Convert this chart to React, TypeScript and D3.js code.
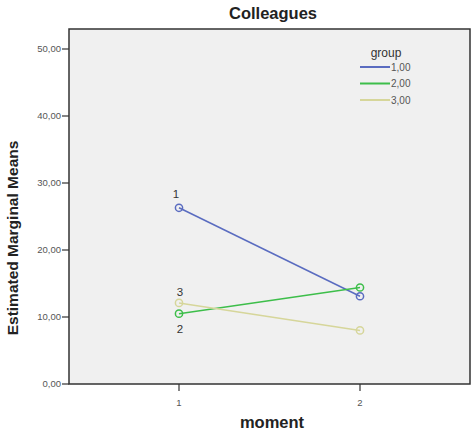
import React, { useEffect, useRef } from 'react';
import * as d3 from 'd3';

const moments = [1, 2];
const groups = ['1,00', '2,00', '3,00'];
const groupColors = ['#5a6cc0', '#3dbe4a', '#d6d69a'];
const means = [
  [26.3, 13.1],
  [10.5, 14.4],
  [12.1, 8.0],
];
const yTicks = [0, 10, 20, 30, 40, 50];

const App: React.FC = () => {
  const ref = useRef<SVGSVGElement>(null);

  useEffect(() => {
    const svg = d3.select(ref.current);
    svg.selectAll('*').remove();
    const width = 474;
    const height = 432;
    svg.attr('width', width).attr('height', height);

    const left = 69, right = 470, top = 29, bottom = 384;
    const font = 'Liberation Sans, Arial, sans-serif';

    const x = d3.scaleLinear().domain([1, 2]).range([179, 360]);
    const y = d3.scaleLinear().domain([0, 50]).range([bottom, 49]);

    svg.append('rect')
      .attr('x', left).attr('y', top)
      .attr('width', right - left).attr('height', bottom - top)
      .attr('fill', '#f0f0f0')
      .attr('stroke', '#333').attr('stroke-width', 1.5);

    // title
    svg.append('text')
      .attr('x', 273).attr('y', 19)
      .attr('text-anchor', 'middle')
      .style('font-family', font)
      .style('font-weight', 'bold').style('font-size', '16.5px')
      .attr('fill', '#222')
      .text('Colleagues');

    // y axis
    const yAxis = svg.append('g');
    yTicks.forEach(t => {
      yAxis.append('line')
        .attr('x1', left - 7).attr('x2', left)
        .attr('y1', y(t)).attr('y2', y(t))
        .attr('stroke', '#333').attr('stroke-width', 1.2);
      yAxis.append('text')
        .attr('x', left - 8).attr('y', y(t))
        .attr('dy', '0.35em')
        .attr('text-anchor', 'end')
        .style('font-family', font)
        .style('font-size', '9.5px')
        .attr('fill', '#555')
        .text(d3.format('.2f')(t).replace('.', ','));
    });

    svg.append('text')
      .attr('transform', `translate(18, 238) rotate(-90)`)
      .attr('text-anchor', 'middle')
      .style('font-family', font)
      .style('font-weight', 'bold').style('font-size', '15.5px')
      .attr('fill', '#222')
      .text('Estimated Marginal Means');

    // x axis
    moments.forEach(m => {
      svg.append('line')
        .attr('x1', x(m)).attr('x2', x(m))
        .attr('y1', bottom).attr('y2', bottom + 7)
        .attr('stroke', '#333').attr('stroke-width', 1.2);
      svg.append('text')
        .attr('x', x(m)).attr('y', bottom + 22)
        .attr('text-anchor', 'middle')
        .style('font-family', font)
        .style('font-size', '9.5px')
        .attr('fill', '#555')
        .text(String(m));
    });

    svg.append('text')
      .attr('x', 272).attr('y', 428)
      .attr('text-anchor', 'middle')
      .style('font-family', font)
      .style('font-weight', 'bold').style('font-size', '16.5px')
      .attr('fill', '#222')
      .text('moment');

    // lines and markers
    const line = d3.line<number>()
      .x((_, i) => x(moments[i]))
      .y(d => y(d));

    means.forEach((vals, gi) => {
      svg.append('path')
        .attr('d', line(vals))
        .attr('fill', 'none')
        .attr('stroke', groupColors[gi])
        .attr('stroke-width', 1.5);
      vals.forEach((v, mi) => {
        svg.append('circle')
          .attr('cx', x(moments[mi])).attr('cy', y(v))
          .attr('r', 3.6)
          .attr('fill', 'none')
          .attr('stroke', groupColors[gi])
          .attr('stroke-width', 1.5);
      });
    });

    // point labels at moment 1
    const labelOffsets = [-10, 19, -7];
    means.forEach((vals, gi) => {
      svg.append('text')
        .attr('x', x(moments[0]) + (gi === 0 ? -3 : 1))
        .attr('y', y(vals[0]) + labelOffsets[gi])
        .attr('text-anchor', 'middle')
        .style('font-family', font)
        .style('font-size', '11.5px')
        .attr('fill', '#333')
        .text(String(gi + 1));
    });

    // legend
    const lg = svg.append('g');
    lg.append('text')
      .attr('x', 386).attr('y', 57)
      .attr('text-anchor', 'middle')
      .style('font-family', font)
      .style('font-size', '12px')
      .attr('fill', '#333')
      .text('group');
    groups.forEach((g, i) => {
      const ly = 67 + i * 16.5;
      lg.append('line')
        .attr('x1', 360).attr('x2', 390)
        .attr('y1', ly).attr('y2', ly)
        .attr('stroke', groupColors[i]).attr('stroke-width', 2);
      lg.append('text')
        .attr('x', 391).attr('y', ly)
        .attr('dy', '0.35em')
        .style('font-family', font)
        .style('font-size', '10px')
        .attr('fill', '#555')
        .text(g);
    });
  }, []);

  return (
    <div style={{ position: 'absolute', left: 0, top: 0 }}>
      <svg ref={ref}></svg>
    </div>
  );
};

export default App;
